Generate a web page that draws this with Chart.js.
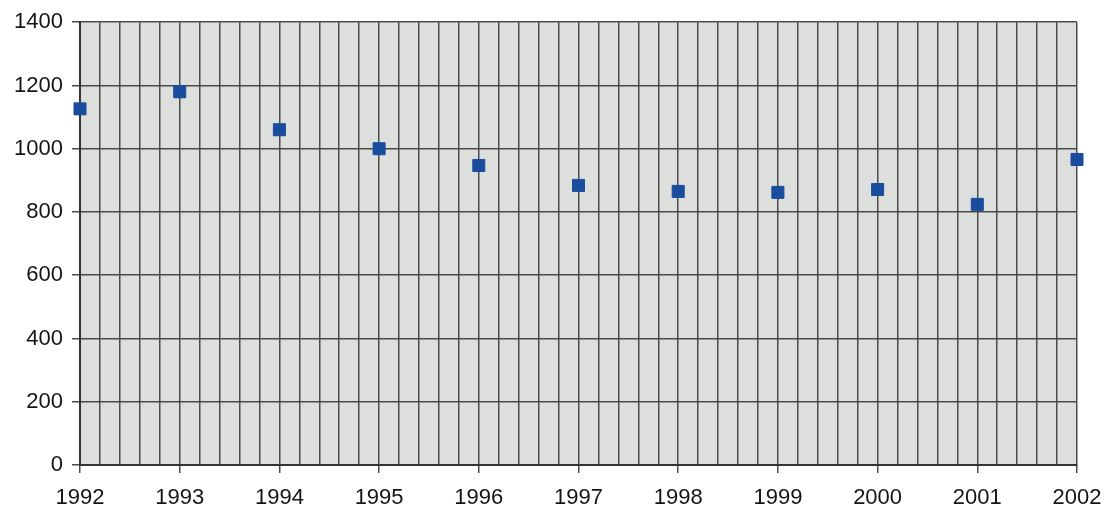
<!DOCTYPE html>
<html>
<head>
<meta charset="utf-8">
<script src="https://cdn.jsdelivr.net/npm/chart.js@4"></script>
<style>
  html, body { margin: 0; padding: 0; background: #fff; }
  #wrap { width: 1105px; height: 511px; }
</style>
</head>
<body>
<div id="wrap"><canvas id="myChart"></canvas></div>
<script>
const years = [1992, 1993, 1994, 1995, 1996, 1997, 1998, 1999, 2000, 2001, 2002];
const values = [1126, 1180, 1060, 1000, 947, 884, 865, 862, 871, 824, 966];
const yTicks = [0, 200, 400, 600, 800, 1000, 1200, 1400];

// grey plot background
const plotBg = {
    id: 'plotBg',
    beforeDraw(chart) {
        const a = chart.chartArea;
        const ctx = chart.ctx;
        ctx.save();
        ctx.fillStyle = '#dddfdc';
        ctx.fillRect(a.left, a.top, a.right - a.left, a.bottom - a.top);
        ctx.restore();
    }
};

const isYear = v => Math.abs(v - Math.round(v)) < 1e-6;

new Chart(document.getElementById('myChart'), {
    type: 'scatter',
    data: {
        datasets: [{
            data: years.map((y, i) => ({ x: y, y: values[i] })),
            backgroundColor: '#1a4c9e',
            borderColor: '#1a4c9e',
            pointStyle: 'rect',
            radius: 8.5,
            hoverRadius: 8.5,
            clip: false
        }]
    },
    options: {
        responsive: true,
        maintainAspectRatio: false,
        animation: false,
        layout: { padding: { top: 13, right: 0, left: 0, bottom: 0 } },
        plugins: { legend: { display: false }, tooltip: { enabled: false } },
        scales: {
            x: {
                type: 'linear',
                min: 1992,
                max: 2002,
                afterFit: s => { s.height = 46; s.paddingRight = 28; s.paddingLeft = 0; },
                ticks: {
                    stepSize: 0.2,
                    autoSkip: false,
                    maxRotation: 0,
                    color: '#151515',
                    font: { family: 'Liberation Sans', size: 22 },
                    padding: 12,
                    callback: v => isYear(v) ? String(Math.round(v)) : ''
                },
                grid: {
                    color: '#4a4a4a',
                    lineWidth: 1.5,
                    tickLength: 8,
                    tickColor: ctx => isYear(ctx.tick.value) ? '#4a4a4a' : 'rgba(0,0,0,0)'
                },
                border: { color: '#333', width: 2 }
            },
            y: {
                min: 0,
                max: 1400,
                afterBuildTicks: axis => { axis.ticks = yTicks.map(v => ({ value: v })); },
                afterFit: s => { s.width = 80; },
                ticks: {
                    color: '#151515',
                    font: { family: 'Liberation Sans', size: 22 },
                    padding: 9,
                    callback: v => String(v)
                },
                grid: {
                    color: '#4a4a4a',
                    lineWidth: 1.5,
                    tickLength: 8
                },
                border: { color: '#333', width: 2 }
            }
        }
    },
    plugins: [plotBg]
});
</script>
</body>
</html>
